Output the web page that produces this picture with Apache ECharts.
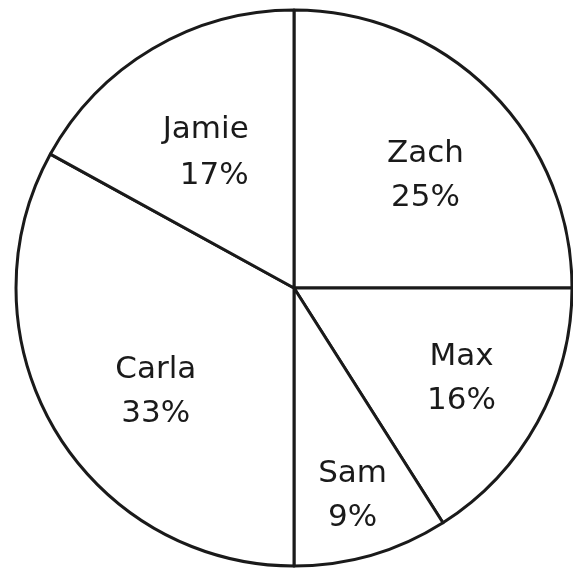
<!DOCTYPE html>
<html><head><meta charset="utf-8">
<script src="https://cdn.jsdelivr.net/npm/echarts@6/dist/echarts.min.js"></script>
<style>html,body{margin:0;padding:0;background:#fff}#c{width:573px;height:571px}</style>
</head><body><div id="c"></div>
<script>
const names = ['Zach', 'Max', 'Sam', 'Carla', 'Jamie'];
const values = [25, 16, 9, 33, 17];

// label nudges (style only)
const labelOffsets = [[31, -12], [43, 23], [19, 72], [-16, 32], [-16, -12]];
const valueAligns = ['center', 'center', 'center', 'center', 'right'];

const txt = {color: '#1a1a1a', fontFamily: 'DejaVu Sans', fontSize: 31, lineHeight: 44};
const chart = echarts.init(document.getElementById('c'), null, {renderer: 'canvas'});
chart.setOption({
  backgroundColor: '#ffffff',
  animation: false,
  series: [{
    type: 'pie',
    center: [294, 288],
    radius: [0, 278],
    startAngle: 90,
    clockwise: true,
    silent: true,
    itemStyle: {color: '#ffffff', borderColor: '#1a1a1a', borderWidth: 3},
    label: {
      show: true,
      position: 'inside',
      formatter: p => '{n|' + p.name + '}\n{' + (valueAligns[p.dataIndex] === 'right' ? 'vr' : 'v') + '|' + p.value + '%}',
      color: '#1a1a1a',
      fontFamily: 'DejaVu Sans',
      fontSize: 31,
      lineHeight: 44,
      rich: {
        n: Object.assign({align: 'center'}, txt),
        v: Object.assign({align: 'center'}, txt),
        vr: Object.assign({align: 'right'}, txt, {lineHeight: 48})
      }
    },
    labelLine: {show: false},
    data: names.map((n, i) => ({
      name: n,
      value: values[i],
      label: {offset: labelOffsets[i]}
    }))
  }]
});
</script></body></html>
